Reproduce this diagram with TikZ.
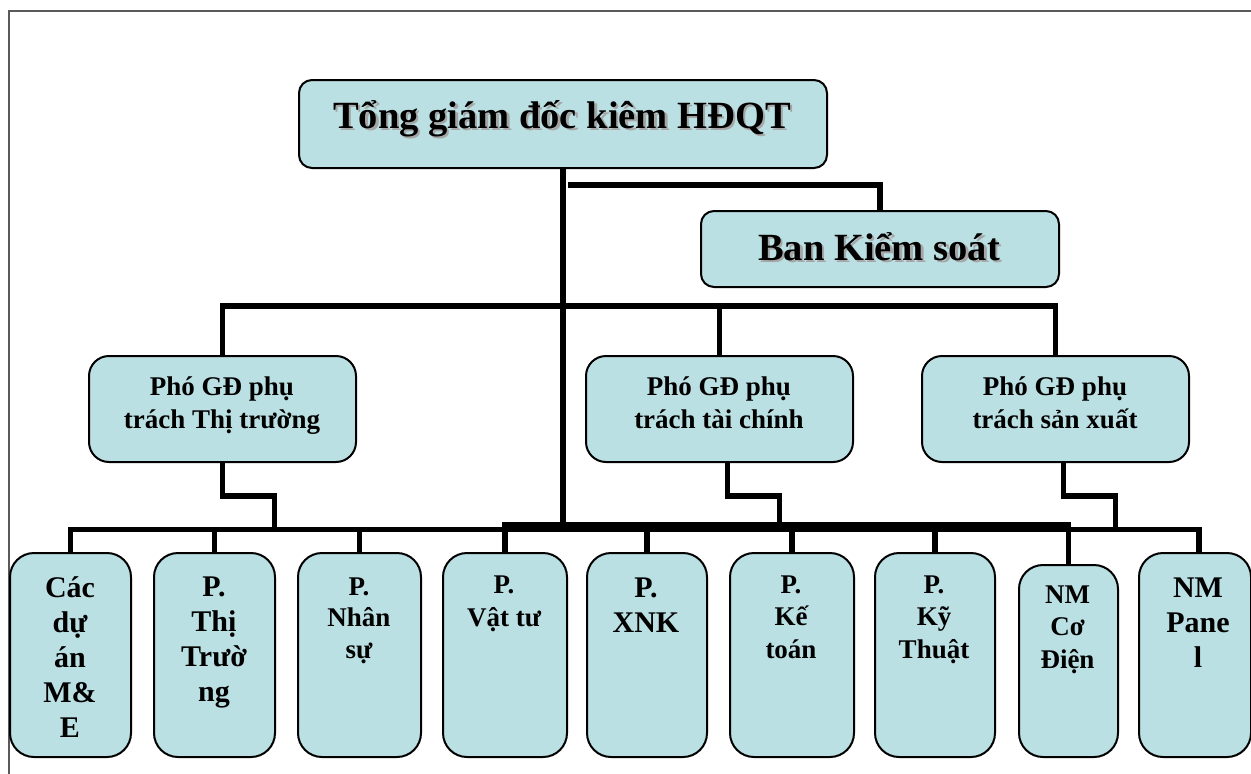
\documentclass[tikz,border=0pt]{standalone}
\usepackage{fontspec}
\setmainfont{Liberation Serif}
% stacked, centred lines whose first baseline is the box baseline
\newcommand\linestack[1]{\vtop{\lineskiplimit=-100pt\halign{\hfil##\hfil\cr#1\crcr}}}
% text with a soft grey drop shadow behind it
\newcommand\shadowed[1]{\makebox[0pt][l]{\kern2.5pt\raisebox{-2.5pt}{\color{shadowgray}#1}}#1}
\definecolor{boxfill}{HTML}{BBE0E3}
\definecolor{framegray}{HTML}{5A5A5A}
\definecolor{shadowgray}{HTML}{A6A6A6}
\tikzset{
  box/.style={draw=black, line width=2pt, fill=boxfill, inner sep=0pt, anchor=north west},
  headbox/.style={box, rounded corners=13pt},
  deputybox/.style={box, rounded corners=20pt, minimum width=267pt, minimum height=106pt},
  unitbox/.style={box, rounded corners=24pt, minimum height=204pt},
  conn/.style={line width=5.5pt, line join=miter},
  bigtext/.style={inner sep=0pt, anchor=base, font=\fontsize{38.5}{44}\selectfont\bfseries},
  deptext/.style={inner sep=0pt, anchor=base, font=\fontsize{27}{33}\selectfont\bfseries},
  unittext/.style={inner sep=0pt, anchor=base, font=\fontsize{30}{35}\selectfont\bfseries},
  smalltext/.style={inner sep=0pt, anchor=base, font=\fontsize{27}{32.5}\selectfont\bfseries},
}
\begin{document}
\begin{tikzpicture}[x=1pt,y=-1pt]
  % page and frame
  \fill[white] (0,0) rectangle (1251,774);
  \useasboundingbox (0,0) rectangle (1251,774);
  \draw[framegray, line width=1.5pt] (9,774) -- (9,11) -- (1251,11);

  % boxes
  \node[headbox, minimum width=528pt, minimum height=88pt] (title) at (298,79) {};
  \node[headbox, minimum width=358pt, minimum height=76pt] (ban) at (700,210) {};
  \node[deputybox] (pg1) at (88,355) {};
  \node[deputybox] (pg2) at (585,355) {};
  \node[deputybox] (pg3) at (921,355) {};
  \node[unitbox, minimum width=121pt] (b1) at (9,552) {};
  \node[unitbox, minimum width=121pt] (b2) at (153,552) {};
  \node[unitbox, minimum width=123pt] (b3) at (297,552) {};
  \node[unitbox, minimum width=124pt] (b4) at (442,552) {};
  \node[unitbox, minimum width=120pt] (b5) at (586,552) {};
  \node[unitbox, minimum width=124pt] (b6) at (729,552) {};
  \node[unitbox, minimum width=120pt] (b7) at (874,552) {};
  \node[unitbox, minimum width=99pt, minimum height=192pt] (b8) at (1018,564) {};
  \node[unitbox, minimum width=112pt] (b9) at (1138,552) {};

  % connectors
  \coordinate (midbus) at (0,306);
  \coordinate (busA) at (0,529.5);
  \coordinate (busB) at (0,525);
  \coordinate (asst) at (568,185);
  \draw[conn] (title.south) -- (title.south |- busB);
  \draw[conn] (asst) -| (ban.north);
  \draw[conn] (pg1.north) -- (pg1.north |- midbus) -- (pg3.north |- midbus) -- (pg3.north);
  \draw[conn] (pg2.north) -- (pg2.north |- midbus);
  \draw[conn, yshift=1pt] (title.south |- midbus) -- (pg2.north |- midbus);
  \draw[conn] (pg1.south) -- ++(0,33) -- ++(52,0) -- ++(0,35);
  \draw[conn] ([xshift=8pt]pg2.south) -- ++(0,33) -- ++(52,0) -- ++(0,33);
  \draw[conn] ([xshift=8pt]pg3.south) -- ++(0,33) -- ++(52,0) -- ++(0,33);
  \draw[conn] (b1.north) -- (b1.north |- busA) -- ([xshift=4pt]b9.north |- busA) -- ([xshift=4pt]b9.north);
  \draw[conn, line cap=rect] (b4.north |- busB) -- (b8.north |- busB);
  \foreach \b in {b2,b3,b4,b5,b6,b7}
    \draw[conn] (\b.north) -- (\b.north |- busA);
  \draw[conn] (b8.north) -- (b8.north |- busB);

  % headings with drop shadow
  \node[bigtext] (titletext) at (562,128) {\shadowed{Tổng giám đốc kiêm HĐQT}};
  \node[bigtext] (bantext) at (879,260) {\shadowed{Ban Kiểm soát}};

  % deputy directors
  \node[deptext] (pg1text) at (222,395) {\linestack{Phó GĐ phụ\cr trách Thị trường}};
  \node[deptext] (pg2text) at (719,395) {\linestack{Phó GĐ phụ\cr trách tài chính}};
  \node[deptext] (pg3text) at (1055,395) {\linestack{Phó GĐ phụ\cr trách sản xuất}};

  % departments and plants
  \node[unittext] (t1) at (70,597) {\linestack{Các\cr dự\cr án\cr M\&\cr E}};
  \node[unittext] (t2) at (214,596) {\linestack{P.\cr Thị\cr Trườ\cr ng}};
  \node[smalltext, font=\fontsize{27}{31.5}\selectfont\bfseries] (t3) at (359,595) {\linestack{P.\cr Nhân\cr sự}};
  \node[smalltext, font=\fontsize{27}{33}\selectfont\bfseries] (t4) at (504,593) {\linestack{P.\cr Vật tư}};
  \node[unittext, font=\fontsize{30}{35.5}\selectfont\bfseries] (t5) at (646,597) {\linestack{P.\cr XNK}};
  \node[smalltext] (t6) at (791,593) {\linestack{P.\cr Kế\cr toán}};
  \node[smalltext] (t7) at (934,593) {\linestack{P.\cr Kỹ\cr Thuật}};
  \node[smalltext] (t8) at (1067.5,603) {\linestack{NM\cr Cơ\cr Điện}};
  \node[unittext] (t9) at (1198,597) {\linestack{NM\cr Pane\cr l}};
\end{tikzpicture}
\end{document}
